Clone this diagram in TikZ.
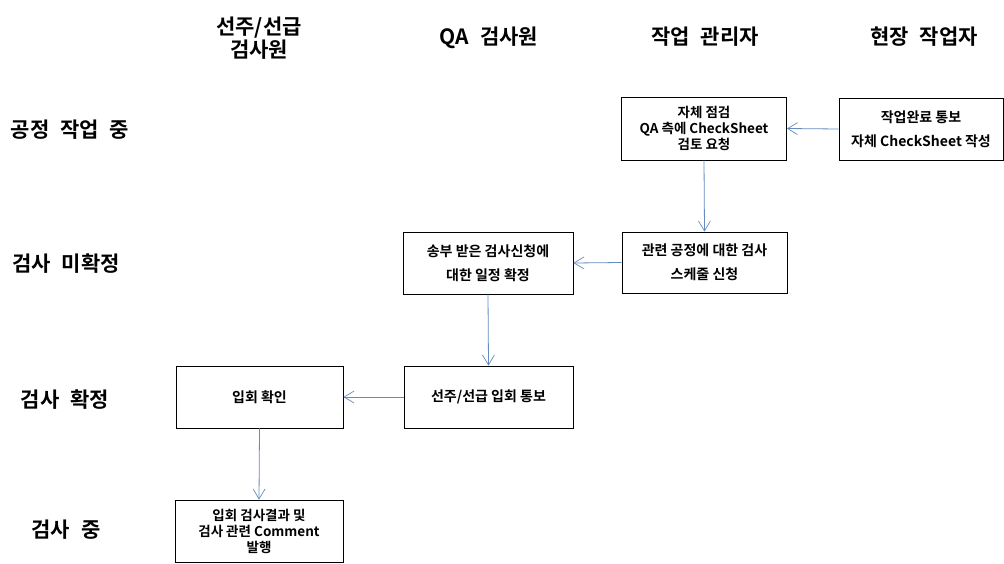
\documentclass[tikz,border=0pt]{standalone}
\usepackage{fontspec}
\setmainfont{Noto Sans CJK KR}[BoldFont={* Bold}]
\newfontfamily\headfont{Noto Sans CJK KR}[BoldFont={* Bold}, WordSpace=2.3]
\usetikzlibrary{arrows.meta}
\definecolor{flowblue}{RGB}{100,140,195}
\tikzset{
  x=1pt, y=-1pt,
  stepbox/.style={draw=black, line width=0.8pt, fill=white, align=center,
    inner sep=2pt, font=\bfseries\fontsize{13.5}{16}\selectfont},
  widebox/.style={stepbox, font=\bfseries\fontsize{14}{24}\selectfont},
  header/.style={align=center, font=\headfont\bfseries\fontsize{21}{22.5}\selectfont},
  flow/.style={draw=flowblue, line width=0.8pt,
    -{Straight Barb[length=10pt,width=12pt,line width=0.7pt]}}
}
\begin{document}
\begin{tikzpicture}
\useasboundingbox (0,0) rectangle (1004,563);

% column headers
\node[header] (h1) at (259,38) {선주/선급\\검사원};
\node[header] (h2) at (489,38) {QA 검사원};
\node[header] (h3) at (705,37) {작업 관리자};
\node[header] (h4) at (924,37) {현장 작업자};

% row labels
\node[header] (r1) at (70,130) {공정 작업 중};
\node[header] (r2) at (66,264) {검사 미확정};
\node[header] (r3) at (65,400) {검사 확정};
\node[header] (r4) at (66,530) {검사 중};

% process steps
\node[stepbox, minimum width=165, minimum height=63] (a) at (704,128.5)
  {자체 점검\\QA 측에 CheckSheet\\검토 요청};
\node[widebox, minimum width=164, minimum height=62] (b) at (921,129)
  {작업완료 통보\\자체 CheckSheet  작성};
\node[widebox, minimum width=165, minimum height=61] (c) at (704.5,262.5)
  {관련 공정에 대한 검사\\스케줄 신청};
\node[widebox, minimum width=170, minimum height=62] (d) at (488,263)
  {송부 받은 검사신청에\\대한 일정 확정};
\node[widebox, minimum width=169, minimum height=62] (e) at (488.5,397)
  {선주/선급  입회 통보};
\node[widebox, minimum width=167, minimum height=62] (f) at (259.5,397)
  {입회 확인};
\node[stepbox, minimum width=168, minimum height=62] (g) at (259,531)
  {입회 검사결과 및\\검사 관련 Comment\\발행};

% flow connectors
\draw[flow] (b.west) -- (a.east);
\draw[flow] (a.south) -- (c.north);
\draw[flow] (c.west) -- (d.east);
\draw[flow] (d.south) -- (e.north);
\draw[flow] (e.west) -- (f.east);
\draw[flow] (f.south) -- (g.north);
\end{tikzpicture}
\end{document}
